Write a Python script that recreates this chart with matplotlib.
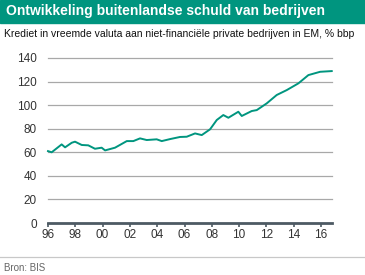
import matplotlib.pyplot as plt
from matplotlib.patches import Rectangle
from matplotlib.lines import Line2D

plt.rcParams['font.family'] = ['Liberation Sans', 'DejaVu Sans']

years = [1996.0, 1996.27, 1997.0, 1997.25, 1997.74, 1997.98, 1998.47, 1998.95,
         1999.44, 1999.93, 2000.18, 2000.91, 2001.77, 2002.25, 2002.74, 2003.23,
         2003.96, 2004.33, 2004.94, 2005.67, 2006.16, 2006.77, 2007.26, 2007.87,
         2008.36, 2008.84, 2009.21, 2009.94, 2010.19, 2010.92, 2011.29, 2012.02,
         2012.75, 2013.49, 2014.34, 2015.07, 2015.93, 2016.78]
krediet = [61, 60, 66.7, 64.2, 68.1, 69, 66.2, 65.9,
           63, 63.9, 61.6, 63.9, 69.5, 69.5, 71.8, 70.4,
           71, 69.5, 71.2, 73, 73.2, 76, 74.6, 79.5,
           87.4, 91.6, 89.3, 94.4, 90.8, 95, 95.8, 101.5,
           108.6, 112.8, 118.5, 125.5, 128.3, 128.9]
yticks = [0, 20, 40, 60, 80, 100, 120, 140]
xticks = list(range(1996, 2017, 2))
xlabels = ['%02d' % (y % 100) for y in xticks]

teal = '#00957f'
W, H = 365, 275
fig = plt.figure(figsize=(W / 100, H / 100), dpi=100)

# title banner
fig.patches.append(Rectangle((0, 1 - 22.5 / H), 1, 22.5 / H, transform=fig.transFigure,
                             color=teal, zorder=0))
fig.text(6 / W, 1 - 11.5 / H, 'Ontwikkeling buitenlandse schuld van bedrijven',
         color='white', fontsize=10, fontweight='bold', va='center')
fig.text(4 / W, 1 - 34 / H,
         'Krediet in vreemde valuta aan niet-financiële private bedrijven in EM, % bbp',
         color='#111111', fontsize=7.5, va='center')

ax = fig.add_axes([48 / W, 1 - 223 / H, (332 - 48) / W, (223 - 58) / H])
ax.plot(years, krediet, color=teal, lw=1.4, clip_on=False)
ax.set_xlim(1996, 2016.8)
ax.set_ylim(0, 140)
ax.set_yticks(yticks)
ax.set_xticks(xticks)
ax.set_xticklabels(xlabels)
for y in yticks[1:]:
    ax.axhline(y, color='#a8a8a8', lw=0.9, zorder=0, clip_on=False)
for s in ['top', 'right', 'left']:
    ax.spines[s].set_visible(False)
ax.spines['bottom'].set_color('#4d5a63')
ax.spines['bottom'].set_linewidth(2)
ax.tick_params(axis='y', length=0, pad=8, labelsize=8.5, labelcolor='#333333')
ax.tick_params(axis='x', length=3, width=1.2, color='#4d5a63', pad=1,
               labelsize=8.5, labelcolor='#333333')

# footer
fig.lines.append(Line2D([0, 1], [1 - 257 / H, 1 - 257 / H], transform=fig.transFigure,
                        color='#c8c8c8', lw=0.9))
fig.text(4 / W, 1 - 268 / H, 'Bron: BIS', color='#666666', fontsize=7, va='center')

fig.savefig('out.png', dpi=100)
